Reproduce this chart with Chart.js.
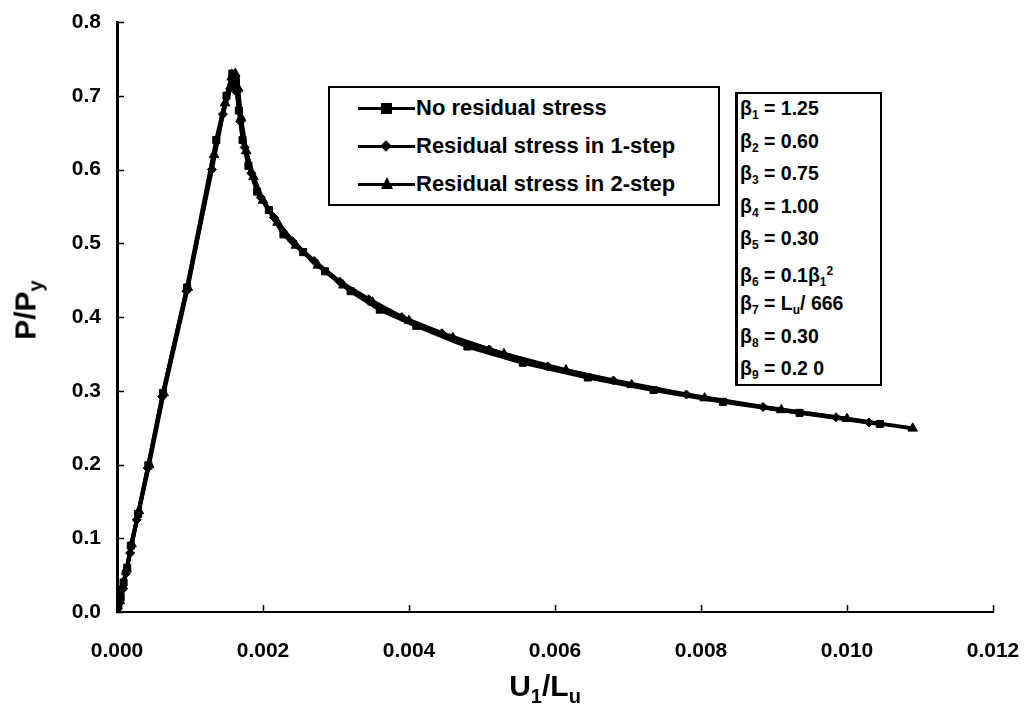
<!DOCTYPE html>
<html>
<head>
<meta charset="utf-8">
<script src="https://cdn.jsdelivr.net/npm/chart.js@4/dist/chart.umd.min.js"></script>
<style>
  body { margin: 0; background: #fff; font-family: Arial, "Liberation Sans", sans-serif; }
  #wrap { position: relative; width: 1030px; height: 713px; }
  .ttl { position: absolute; font-weight: bold; font-size: 30px; color: #000; white-space: nowrap; }
  .ttl sub { font-size: 20px; vertical-align: -7px; }
  #ytitle { left: 28px; top: 310px; transform: translate(-50%, -50%) rotate(-90deg); }
  #xtitle { left: 545px; top: 688px; transform: translate(-50%, -50%); }
  #legend { position: absolute; left: 328px; top: 86px; width: 388px; height: 116px; border: 2px solid #000; background: #fff; }
  .lg { position: absolute; left: 28px; height: 26px; font-weight: bold; font-size: 22px; white-space: nowrap; }
  .lg .ln { position: absolute; left: 0; top: 12px; width: 57px; height: 3px; background: #000; }
  .lg .mk { position: absolute; background: #000; }
  .lg .tx { position: absolute; left: 58px; top: 0; line-height: 26px; }
  #params { position: absolute; left: 735px; top: 92px; width: 142px; height: 290px; border: 2px solid #000; border-left-width: 3px; background: #fff; }
  #params div { position: absolute; left: 2px; font-weight: bold; font-size: 19.5px; white-space: nowrap; line-height: 20px; }
  #params sub { font-size: 12px; vertical-align: -4px; }
  #params sup { font-size: 12px; vertical-align: 7px; }
</style>
</head>
<body>
<div id="wrap">
  <canvas id="chart" width="1030" height="713"></canvas>
  <div class="ttl" id="ytitle">P/P<sub>y</sub></div>
  <div class="ttl" id="xtitle">U<sub>1</sub>/L<sub>u</sub></div>
  <div id="legend"></div>
  <div id="params"></div>
</div>
<script>
// axis ticks
const xTicks = [0, 0.002, 0.004, 0.006, 0.008, 0.010, 0.012];
const yTicks = [0, 0.1, 0.2, 0.3, 0.4, 0.5, 0.6, 0.7, 0.8];

const seriesNames = ['No residual stress', 'Residual stress in 1-step', 'Residual stress in 2-step'];

// No residual stress (squares)
const xNoRes = [0, 0.00002, 0.00005, 0.00009, 0.00014, 0.00019, 0.00029, 0.00043, 0.00063, 0.00096, 0.00136, 0.00150, 0.00158, 0.00163, 0.00167, 0.00172, 0.00180, 0.00192, 0.00208, 0.00228, 0.00255, 0.00285, 0.00320, 0.00360, 0.00410, 0.00480, 0.00556, 0.00645, 0.00735, 0.00830, 0.00935, 0.01045];
const yNoRes = [0, 0.008, 0.02, 0.04, 0.06, 0.09, 0.133, 0.199, 0.297, 0.44, 0.64, 0.70, 0.73, 0.72, 0.68, 0.64, 0.605, 0.57, 0.545, 0.512, 0.488, 0.462, 0.435, 0.41, 0.388, 0.36, 0.338, 0.318, 0.301, 0.285, 0.27, 0.255];

// Residual stress in 1-step (diamonds)
const x1Step = [0, 0.00003, 0.00007, 0.00012, 0.00018, 0.00027, 0.00042, 0.00062, 0.00095, 0.00130, 0.00145, 0.00155, 0.00160, 0.00164, 0.00169, 0.00175, 0.00184, 0.00197, 0.00215, 0.00240, 0.00270, 0.00305, 0.00345, 0.00390, 0.00445, 0.00510, 0.00590, 0.00680, 0.00780, 0.00885, 0.00985, 0.01030];
const y1Step = [0, 0.012, 0.03, 0.052, 0.08, 0.125, 0.195, 0.292, 0.435, 0.60, 0.675, 0.71, 0.72, 0.705, 0.665, 0.63, 0.595, 0.562, 0.535, 0.503, 0.476, 0.448, 0.424, 0.40, 0.378, 0.356, 0.333, 0.314, 0.295, 0.278, 0.264, 0.257];

// Residual stress in 2-step (triangles)
const x2Step = [0, 0.00004, 0.00008, 0.00013, 0.00020, 0.00030, 0.00044, 0.00064, 0.00097, 0.00133, 0.00148, 0.00157, 0.00162, 0.00166, 0.00170, 0.00177, 0.00187, 0.00200, 0.00220, 0.00245, 0.00275, 0.00310, 0.00350, 0.00400, 0.00460, 0.00530, 0.00615, 0.00705, 0.00805, 0.00910, 0.01000, 0.01090];
const y2Step = [0, 0.015, 0.035, 0.058, 0.092, 0.137, 0.2, 0.297, 0.44, 0.62, 0.69, 0.725, 0.73, 0.71, 0.67, 0.625, 0.59, 0.558, 0.528, 0.497, 0.47, 0.443, 0.42, 0.395, 0.372, 0.35, 0.328, 0.308, 0.29, 0.274, 0.262, 0.249];

const paramLines = [
    'β<sub>1</sub> = 1.25',
    'β<sub>2</sub> = 0.60',
    'β<sub>3</sub> = 0.75',
    'β<sub>4</sub> = 1.00',
    'β<sub>5</sub> = 0.30',
    'β<sub>6</sub> = 0.1β<sub>1</sub><sup>2</sup>',
    'β<sub>7</sub> = L<sub>u</sub>/ 666',
    'β<sub>8</sub> = 0.30',
    'β<sub>9</sub> = 0.2 0'
];

const toPoints = (xs, ys) => xs.map((x, i) => ({ x: x, y: ys[i] }));

function makeSet(label, xs, ys, style, radius) {
    return {
        label: label,
        data: toPoints(xs, ys),
        showLine: true,
        borderColor: '#000',
        backgroundColor: '#000',
        borderWidth: 4,
        pointStyle: style,
        pointRadius: radius,
        pointBorderWidth: 1,
        tension: 0
    };
}

// inside tick marks like the original
const innerTicks = {
    id: 'innerTicks',
    afterDraw(chart) {
        const { ctx, chartArea, scales } = chart;
        ctx.save();
        ctx.strokeStyle = '#000';
        ctx.lineWidth = 1.5;
        ctx.beginPath();
        xTicks.forEach(v => {
            const px = Math.round(scales.x.getPixelForValue(v)) + 0.5;
            ctx.moveTo(px, chartArea.bottom);
            ctx.lineTo(px, chartArea.bottom - 7);
        });
        yTicks.forEach(v => {
            const py = Math.round(scales.y.getPixelForValue(v)) + 0.5;
            ctx.moveTo(chartArea.left, py);
            ctx.lineTo(chartArea.left + 7, py);
        });
        ctx.stroke();
        ctx.restore();
    }
};

const tickFont = { family: 'Arial, "Liberation Sans", sans-serif', size: 21, weight: 'bold' };

new Chart(document.getElementById('chart').getContext('2d'), {
    type: 'scatter',
    data: {
        datasets: [
            makeSet(seriesNames[0], xNoRes, yNoRes, 'rect', 5),
            makeSet(seriesNames[1], x1Step, y1Step, 'rectRot', 4.5),
            makeSet(seriesNames[2], x2Step, y2Step, 'triangle', 5.5)
        ]
    },
    options: {
        responsive: false,
        animation: false,
        layout: { padding: { top: 22, right: 37, left: 0, bottom: 0 } },
        plugins: {
            legend: { display: false },
            tooltip: { enabled: false }
        },
        scales: {
            x: {
                type: 'linear',
                min: 0,
                max: 0.012,
                afterFit: s => { s.height = 101; s.paddingLeft = 0; s.paddingRight = 0; },
                afterBuildTicks: s => { s.ticks = xTicks.map(v => ({ value: v })); },
                grid: { drawOnChartArea: false, drawTicks: false },
                border: { color: '#000', width: 2 },
                ticks: {
                    padding: 27,
                    color: '#000',
                    font: tickFont,
                    callback: v => v.toFixed(3)
                }
            },
            y: {
                min: 0,
                max: 0.8,
                afterFit: s => { s.width = 117; s.paddingTop = 0; s.paddingBottom = 0; },
                afterBuildTicks: s => { s.ticks = yTicks.map(v => ({ value: v })); },
                grid: { drawOnChartArea: false, drawTicks: false },
                border: { color: '#000', width: 3 },
                ticks: {
                    padding: 16,
                    color: '#000',
                    font: tickFont,
                    callback: v => v.toFixed(1)
                }
            }
        }
    },
    plugins: [innerTicks]
});

// legend box
const legendEl = document.getElementById('legend');
const markerCss = [
    'left:23px;top:8px;width:11px;height:11px;',
    'left:24px;top:9px;width:8px;height:8px;transform:rotate(45deg);',
    'left:23px;top:6px;width:0;height:0;background:none;border-left:6px solid transparent;border-right:6px solid transparent;border-bottom:12px solid #000;'
];
seriesNames.forEach((name, i) => {
    const row = document.createElement('div');
    row.className = 'lg';
    row.style.top = (7 + i * 38) + 'px';
    row.innerHTML = '<span class="ln"></span><span class="mk" style="' + markerCss[i] + '"></span><span class="tx">' + name + '</span>';
    legendEl.appendChild(row);
});

// parameter box
const paramsEl = document.getElementById('params');
paramLines.forEach((t, i) => {
    const d = document.createElement('div');
    d.style.top = (4 + i * 32.5) + 'px';
    d.innerHTML = t;
    paramsEl.appendChild(d);
});
</script>
</body>
</html>
